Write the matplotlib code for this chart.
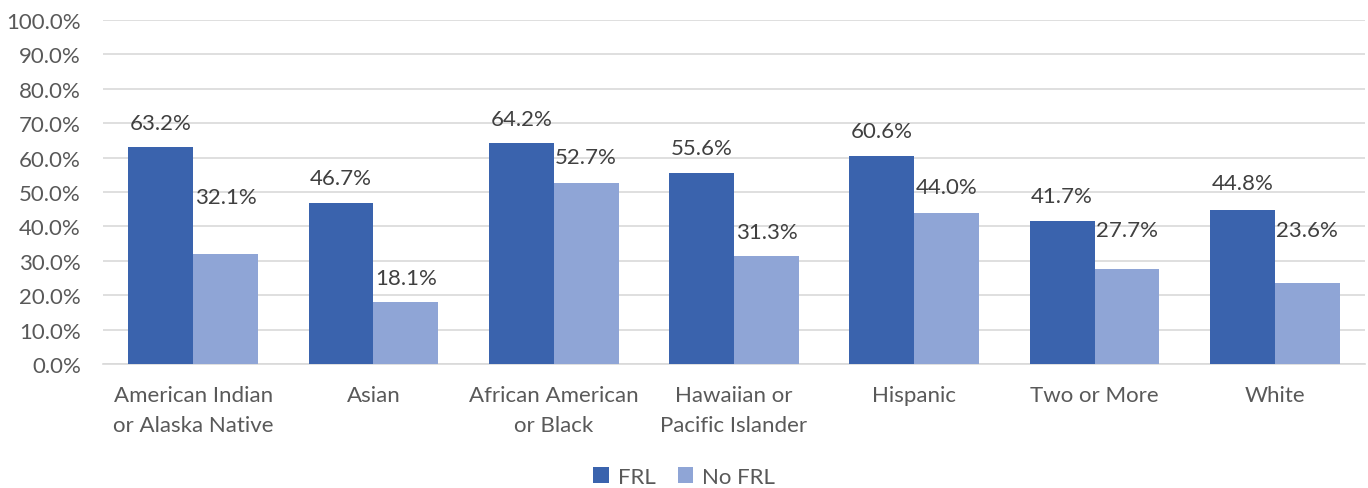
import matplotlib
matplotlib.use("Agg")
import matplotlib.pyplot as plt
import numpy as np
from matplotlib.ticker import FuncFormatter

categories = ["American Indian\nor Alaska Native", "Asian", "African American\nor Black",
              "Hawaiian or\nPacific Islander", "Hispanic", "Two or More", "White"]
frl = [63.2, 46.7, 64.2, 55.6, 60.6, 41.7, 44.8]
no_frl = [32.1, 18.1, 52.7, 31.3, 44.0, 27.7, 23.6]
series_names = ["FRL", "No FRL"]

# label offsets (pixels above bar top, label centre) -- layout only
frl_off = [24, 25, 24, 25, 25, 25, 27]
nofrl_off = [57, 24, 26, 24, 26, 39, 53]

plt.rcParams['font.family'] = ['Lato', 'DejaVu Sans']
txt = '#595959'
c1 = '#3A63AD'
c2 = '#8FA5D6'
fs = 16

fig = plt.figure(figsize=(13.68, 4.89), dpi=100)
ax = fig.add_axes([103/1368, 1-365/489, (1365-103)/1368, (365-21)/489])

x = np.arange(len(categories))
w = 0.36
b1 = ax.bar(x - w/2, frl, w, color=c1, label=series_names[0], zorder=3)
b2 = ax.bar(x + w/2, no_frl, w, color=c2, label=series_names[1], zorder=3)

for xi, v, o in zip(x - w/2, frl, frl_off):
    ax.annotate(f"{v:.1f}%", (xi, v), xytext=(0, o), textcoords='offset pixels',
                ha='center', va='center', fontsize=fs, color='#404040')
for xi, v, o in zip(x + w/2, no_frl, nofrl_off):
    ax.annotate(f"{v:.1f}%", (xi, v), xytext=(0, o), textcoords='offset pixels',
                ha='center', va='center', fontsize=fs, color='#404040')

ax.set_xlim(-0.5, len(categories) - 0.5)
ax.set_ylim(0, 100)
ax.set_yticks(np.arange(0, 101, 10))
ax.yaxis.set_major_formatter(FuncFormatter(lambda v, p: f"{v:.1f}%"))
ax.set_xticks(x)
ax.set_xticklabels(categories, linespacing=1.62)
ax.tick_params(axis='both', length=0, labelsize=fs, colors=txt)
ax.tick_params(axis='x', pad=15)
ax.tick_params(axis='y', pad=16)
ax.grid(axis='y', color='#D9D9D9', linewidth=1.2, zorder=0)
for s in ['top', 'right', 'left']:
    ax.spines[s].set_visible(False)
ax.spines['bottom'].set_color('#D9D9D9')
ax.spines['bottom'].set_linewidth(1.2)

leg = fig.legend(handles=[b1, b2], labels=series_names, loc='center', bbox_to_anchor=(0.5, 1-478/489),
                 ncol=2, frameon=False, fontsize=fs, handlelength=0.7, handleheight=0.7,
                 handletextpad=0.4, columnspacing=1.0)
for t in leg.get_texts():
    t.set_color(txt)

fig.savefig("out.png", dpi=100)
